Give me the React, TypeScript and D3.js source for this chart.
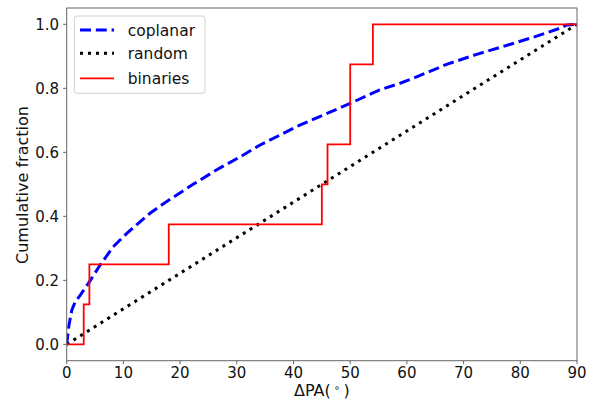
import React from "react";
import * as d3 from "d3";

const coplanarX = [0, 0.4, 0.9, 1.5, 2.4, 3.8, 5.9, 8.2, 10.6, 14.7, 17.6, 22.3, 26.4, 30.6, 34.1, 41.1, 50, 55.2, 58.8, 61.1, 67.0, 72.3, 78.7, 82.9, 87.0, 88.2, 90];
const coplanarY = [0, 0.06, 0.107, 0.133, 0.154, 0.19, 0.248, 0.305, 0.347, 0.41, 0.446, 0.5, 0.545, 0.586, 0.623, 0.685, 0.753, 0.795, 0.816, 0.831, 0.875, 0.906, 0.94, 0.963, 0.988, 0.998, 1.0];

const randomX = [0, 90];
const randomY = [0, 1];

const binariesX = [0, 3, 4, 18, 45, 46, 50, 54, 90];
const binariesY = [0, 0.125, 0.25, 0.375, 0.5, 0.625, 0.875, 1.0, 1.0];

const xTicks = [0, 10, 20, 30, 40, 50, 60, 70, 80, 90];
const yTicks = [0, 0.2, 0.4, 0.6, 0.8, 1.0];

const legendLabels = ["coplanar", "random", "binaries"];

export default function App() {
  const W = 598, H = 401;
  const L = 66.7, R = 577, T = 8, B = 360.7;
  const x = d3.scaleLinear().domain([0, 90]).range([L, R]);
  const y = d3.scaleLinear().domain([-0.051, 1.051]).range([B, T]);
  const font = "'DejaVu Sans', sans-serif";

  const line = d3.line<[number, number]>().x(d => x(d[0])).y(d => y(d[1]));
  const stepLine = d3.line<[number, number]>().x(d => x(d[0])).y(d => y(d[1])).curve(d3.curveStepAfter);

  const cop = coplanarX.map((v, i) => [v, coplanarY[i]] as [number, number]);
  const rnd = randomX.map((v, i) => [v, randomY[i]] as [number, number]);
  const bin = binariesX.map((v, i) => [v, binariesY[i]] as [number, number]);

  const styles = [
    { stroke: "#0000ff", width: 3, dash: "11,4.8" },
    { stroke: "#000000", width: 3, dash: "3,5" },
    { stroke: "#ff0000", width: 1.8, dash: "none" },
  ];

  return (
    <svg width={W} height={H} style={{ position: "fixed", left: 0, top: 0, background: "#fff" }} fontFamily={font}>
      <rect x={0} y={0} width={W} height={H} fill="#fff" />
      <defs>
        <clipPath id="plotclip">
          <rect x={L} y={T} width={R - L} height={B - T} />
        </clipPath>
      </defs>
      <g clipPath="url(#plotclip)">
        <path d={line(rnd) || ""} fill="none" stroke={styles[1].stroke} strokeWidth={styles[1].width} strokeDasharray={styles[1].dash} />
        <path d={line(cop) || ""} fill="none" stroke={styles[0].stroke} strokeWidth={styles[0].width} strokeDasharray={styles[0].dash} />
        <path d={stepLine(bin) || ""} fill="none" stroke={styles[2].stroke} strokeWidth={styles[2].width} />
      </g>
      <rect x={L} y={T} width={R - L} height={B - T} fill="none" stroke="#666" strokeWidth={1} />
      {xTicks.map(t => (
        <g key={"x" + t}>
          <line x1={x(t)} x2={x(t)} y1={B} y2={B + 3.5} stroke="#666" />
          <text x={x(t)} y={378} textAnchor="middle" fontSize={15} fill="#111">{t}</text>
        </g>
      ))}
      {yTicks.map(t => (
        <g key={"y" + t}>
          <line x1={L - 3.5} x2={L} y1={y(t)} y2={y(t)} stroke="#666" />
          <text x={59} y={y(t) + 5.5} textAnchor="end" fontSize={15} fill="#111">{t.toFixed(1)}</text>
        </g>
      ))}
      <text x={(L + R) / 2} y={396} textAnchor="middle" fontSize={16} fill="#111">
        ΔPA(<tspan fontSize={10} dy={-5}> ∘ </tspan><tspan dy={5}>)</tspan>
      </text>
      <text transform={`translate(28,185) rotate(-90)`} textAnchor="middle" fontSize={16} fill="#111">Cumulative fraction</text>
      <rect x={74.3} y={16} width={130.7} height={77.3} rx={3} fill="#fff" fillOpacity={0.8} stroke="#d0d0d0" strokeWidth={1} />
      {legendLabels.map((lab, i) => {
        const ly = [30, 53.3, 78.3][i];
        return (
          <g key={lab}>
            <line x1={80} x2={114} y1={ly} y2={ly} stroke={styles[i].stroke} strokeWidth={styles[i].width} strokeDasharray={styles[i].dash} />
            <text x={127.7} y={ly + 5.5} fontSize={15.5} fill="#111">{lab}</text>
          </g>
        );
      })}
    </svg>
  );
}
